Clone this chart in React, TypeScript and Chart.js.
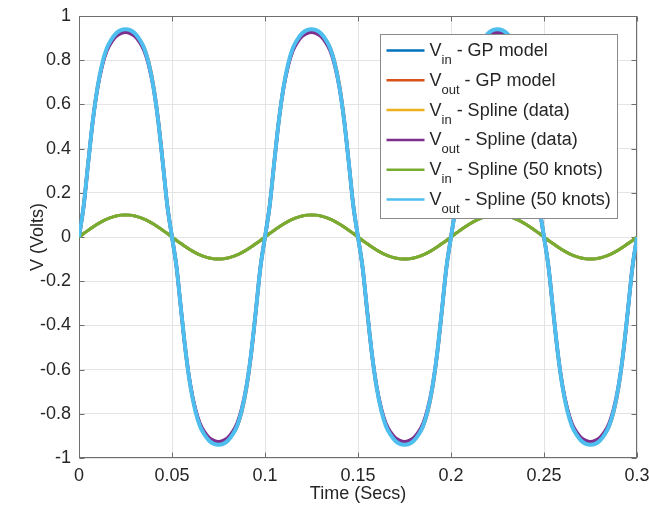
import React, { useEffect, useRef } from "react";
import { Chart, registerables } from "chart.js";

Chart.register(...registerables);

// ---------- data ----------
const TIME_STEP = 0.0025; // seconds between samples (0 .. 0.3 s)

const X_TICKS = [0, 0.05, 0.1, 0.15, 0.2, 0.25, 0.3];
const X_TICK_LABELS = ["0", "0.05", "0.1", "0.15", "0.2", "0.25", "0.3"];
const Y_TICKS = [-1, -0.8, -0.6, -0.4, -0.2, 0, 0.2, 0.4, 0.6, 0.8, 1];
const Y_TICK_LABELS = ["-1", "-0.8", "-0.6", "-0.4", "-0.2", "0", "0.2", "0.4", "0.6", "0.8", "1"];
const X_TITLE = "Time (Secs)";
const Y_TITLE = "V (Volts)";

const SERIES_SYMBOL = ["V", "V", "V", "V", "V", "V"];
const SERIES_SUB = ["in", "out", "in", "out", "in", "out"];
const SERIES_SUFFIX = [
  " - GP model",
  " - GP model",
  " - Spline (data)",
  " - Spline (data)",
  " - Spline (50 knots)",
  " - Spline (50 knots)",
];
const SERIES_COLORS = ["#0072BD", "#D95319", "#EDB120", "#7E2F8E", "#77AC30", "#4DBEEE"];

// Vin - Spline (50 knots)
const VIN_KNOTS = [
  0, 0.016, 0.031, 0.045, 0.059, 0.071, 0.081, 0.089, 0.095, 0.099, 0.1, 0.099, 0.095, 0.089, 0.081, 0.071, 0.059, 0.045, 0.031, 0.016,
  0, -0.016, -0.031, -0.045, -0.059, -0.071, -0.081, -0.089, -0.095, -0.099, -0.1, -0.099, -0.095, -0.089, -0.081, -0.071, -0.059, -0.045, -0.031, -0.016,
  0, 0.016, 0.031, 0.045, 0.059, 0.071, 0.081, 0.089, 0.095, 0.099, 0.1, 0.099, 0.095, 0.089, 0.081, 0.071, 0.059, 0.045, 0.031, 0.016,
  0, -0.016, -0.031, -0.045, -0.059, -0.071, -0.081, -0.089, -0.095, -0.099, -0.1, -0.099, -0.095, -0.089, -0.081, -0.071, -0.059, -0.045, -0.031, -0.016,
  0, 0.016, 0.031, 0.045, 0.059, 0.071, 0.081, 0.089, 0.095, 0.099, 0.1, 0.099, 0.095, 0.089, 0.081, 0.071, 0.059, 0.045, 0.031, 0.016,
  0, -0.016, -0.031, -0.045, -0.059, -0.071, -0.081, -0.089, -0.095, -0.099, -0.1, -0.099, -0.095, -0.089, -0.081, -0.071, -0.059, -0.045, -0.031, -0.016,
  0,
];
// Vin - GP model and Vin - Spline (data) lie under the same curve
const VIN_GP = VIN_KNOTS;
const VIN_DATA = VIN_KNOTS;

// Vout - GP model
const VOUT_GP = [
  0, 0.14, 0.34, 0.53, 0.678, 0.78, 0.848, 0.888, 0.913, 0.927, 0.931, 0.929, 0.917, 0.893, 0.856, 0.79, 0.686, 0.535, 0.342, 0.14,
  0, -0.14, -0.34, -0.53, -0.678, -0.78, -0.848, -0.888, -0.913, -0.927, -0.931, -0.929, -0.917, -0.893, -0.856, -0.79, -0.686, -0.535, -0.342, -0.14,
  0, 0.14, 0.34, 0.53, 0.678, 0.78, 0.848, 0.888, 0.913, 0.927, 0.931, 0.929, 0.917, 0.893, 0.856, 0.79, 0.686, 0.535, 0.342, 0.14,
  0, -0.14, -0.34, -0.53, -0.678, -0.78, -0.848, -0.888, -0.913, -0.927, -0.931, -0.929, -0.917, -0.893, -0.856, -0.79, -0.686, -0.535, -0.342, -0.14,
  0, 0.14, 0.34, 0.53, 0.678, 0.78, 0.848, 0.888, 0.913, 0.927, 0.931, 0.929, 0.917, 0.893, 0.856, 0.79, 0.686, 0.535, 0.342, 0.14,
  0, -0.14, -0.34, -0.53, -0.678, -0.78, -0.848, -0.888, -0.913, -0.927, -0.931, -0.929, -0.917, -0.893, -0.856, -0.79, -0.686, -0.535, -0.342, -0.14,
  0,
];

// Vout - Spline (data)
const VOUT_DATA = [
  0, 0.14, 0.34, 0.53, 0.675, 0.776, 0.843, 0.882, 0.908, 0.921, 0.926, 0.921, 0.908, 0.882, 0.843, 0.776, 0.675, 0.53, 0.34, 0.14,
  0, -0.14, -0.34, -0.53, -0.675, -0.776, -0.843, -0.882, -0.908, -0.921, -0.926, -0.921, -0.908, -0.882, -0.843, -0.776, -0.675, -0.53, -0.34, -0.14,
  0, 0.14, 0.34, 0.53, 0.675, 0.776, 0.843, 0.882, 0.908, 0.921, 0.926, 0.921, 0.908, 0.882, 0.843, 0.776, 0.675, 0.53, 0.34, 0.14,
  0, -0.14, -0.34, -0.53, -0.675, -0.776, -0.843, -0.882, -0.908, -0.921, -0.926, -0.921, -0.908, -0.882, -0.843, -0.776, -0.675, -0.53, -0.34, -0.14,
  0, 0.14, 0.34, 0.53, 0.675, 0.776, 0.843, 0.882, 0.908, 0.921, 0.926, 0.921, 0.908, 0.882, 0.843, 0.776, 0.675, 0.53, 0.34, 0.14,
  0, -0.14, -0.34, -0.53, -0.675, -0.776, -0.843, -0.882, -0.908, -0.921, -0.926, -0.921, -0.908, -0.882, -0.843, -0.776, -0.675, -0.53, -0.34, -0.14,
  0,
];

// Vout - Spline (50 knots)
const VOUT_KNOTS = [
  0, 0.14, 0.34, 0.53, 0.68, 0.785, 0.855, 0.895, 0.922, 0.936, 0.94, 0.936, 0.922, 0.895, 0.855, 0.785, 0.68, 0.53, 0.34, 0.14,
  0, -0.14, -0.34, -0.53, -0.68, -0.785, -0.855, -0.895, -0.922, -0.936, -0.94, -0.936, -0.922, -0.895, -0.855, -0.785, -0.68, -0.53, -0.34, -0.14,
  0, 0.14, 0.34, 0.53, 0.68, 0.785, 0.855, 0.895, 0.922, 0.936, 0.94, 0.936, 0.922, 0.895, 0.855, 0.785, 0.68, 0.53, 0.34, 0.14,
  0, -0.14, -0.34, -0.53, -0.68, -0.785, -0.855, -0.895, -0.922, -0.936, -0.94, -0.936, -0.922, -0.895, -0.855, -0.785, -0.68, -0.53, -0.34, -0.14,
  0, 0.14, 0.34, 0.53, 0.68, 0.785, 0.855, 0.895, 0.922, 0.936, 0.94, 0.936, 0.922, 0.895, 0.855, 0.785, 0.68, 0.53, 0.34, 0.14,
  0, -0.14, -0.34, -0.53, -0.68, -0.785, -0.855, -0.895, -0.922, -0.936, -0.94, -0.936, -0.922, -0.895, -0.855, -0.785, -0.68, -0.53, -0.34, -0.14,
  0,
];

const SERIES_VALUES = [VIN_GP, VOUT_GP, VIN_DATA, VOUT_DATA, VIN_KNOTS, VOUT_KNOTS];
const SERIES_WIDTHS = [3, 3.5, 3, 3.5, 3, 4];

// ---------- style ----------
const FONT = '"Liberation Sans", Arial, Helvetica, sans-serif';
const TEXT_COLOR = "#262626";
const AXIS_COLOR = "#6e6e6e";
const GRID_COLOR = "#e4e4e4";

const axesBoxPlugin = {
  id: "axesBox",
  beforeDatasetsDraw(chart: any) {
    const { ctx, chartArea: a, scales } = chart;
    const xs = scales.x;
    const ys = scales.y;
    const L = Math.round(a.left) + 0.5;
    const R = Math.round(a.right) - 0.5;
    const T = Math.round(a.top) + 0.5;
    const B = Math.round(a.bottom) - 0.5;
    ctx.save();
    ctx.strokeStyle = AXIS_COLOR;
    ctx.lineWidth = 1;
    ctx.strokeRect(L, T, R - L, B - T);
    const tl = 5;
    ctx.beginPath();
    X_TICKS.forEach((v) => {
      const px = Math.round(xs.getPixelForValue(v)) + 0.5;
      ctx.moveTo(px, B);
      ctx.lineTo(px, B - tl);
      ctx.moveTo(px, T);
      ctx.lineTo(px, T + tl);
    });
    Y_TICKS.forEach((v) => {
      const py = Math.round(ys.getPixelForValue(v)) + 0.5;
      ctx.moveTo(L, py);
      ctx.lineTo(L + tl, py);
      ctx.moveTo(R, py);
      ctx.lineTo(R - tl, py);
    });
    ctx.stroke();
    ctx.restore();
  },
  afterDraw(chart: any) {
    const { ctx, chartArea: a } = chart;
    ctx.save();
    ctx.fillStyle = TEXT_COLOR;
    ctx.font = `18px ${FONT}`;
    ctx.textAlign = "center";
    ctx.textBaseline = "middle";
    ctx.fillText(X_TITLE, (a.left + a.right) / 2, a.bottom + 36);
    ctx.translate(a.left - 41, (a.top + a.bottom) / 2);
    ctx.rotate(-Math.PI / 2);
    ctx.fillText(Y_TITLE, 0, 0);
    ctx.restore();
  },
};

const legendPlugin = {
  id: "matlabLegend",
  afterDraw(chart: any) {
    const { ctx, chartArea: a } = chart;
    const mainFont = `18px ${FONT}`;
    const subFont = `13px ${FONT}`;
    ctx.save();
    const parts = SERIES_SUB.map((sub, i) => {
      ctx.font = mainFont;
      const w1 = ctx.measureText(SERIES_SYMBOL[i]).width;
      const w3 = ctx.measureText(SERIES_SUFFIX[i]).width;
      ctx.font = subFont;
      const w2 = ctx.measureText(sub).width;
      return { w1, w2, w3 };
    });
    const maxW = Math.max(...parts.map((p) => p.w1 + p.w2 + p.w3));
    const padL = 6, lineLen = 38, gap = 5, padR = 7;
    const rowH = 29.8, padTop = 16, padBottom = 19;
    const n = SERIES_SUB.length;
    const boxW = padL + lineLen + gap + maxW + padR;
    const boxH = padTop + rowH * (n - 1) + padBottom;
    const bx = Math.round(a.right - 20 - boxW) + 0.5;
    const by = Math.round(a.top + 18) + 0.5;
    ctx.fillStyle = "#ffffff";
    ctx.fillRect(bx, by, boxW, boxH);
    ctx.strokeStyle = "#8a8a8a";
    ctx.lineWidth = 1;
    ctx.strokeRect(bx, by, Math.round(boxW), Math.round(boxH));
    for (let i = 0; i < n; i++) {
      const ry = by + padTop + rowH * i;
      ctx.strokeStyle = SERIES_COLORS[i];
      ctx.lineWidth = 2.5;
      ctx.beginPath();
      ctx.moveTo(bx + padL, ry);
      ctx.lineTo(bx + padL + lineLen, ry);
      ctx.stroke();
      let tx = bx + padL + lineLen + gap;
      ctx.fillStyle = TEXT_COLOR;
      ctx.textAlign = "left";
      ctx.textBaseline = "alphabetic";
      ctx.font = mainFont;
      ctx.fillText(SERIES_SYMBOL[i], tx, ry + 5.5);
      tx += parts[i].w1;
      ctx.font = subFont;
      ctx.fillText(SERIES_SUB[i], tx, ry + 13.5);
      tx += parts[i].w2;
      ctx.font = mainFont;
      ctx.fillText(SERIES_SUFFIX[i], tx, ry + 5.5);
    }
    ctx.restore();
  },
};

export default function App() {
  const canvasRef = useRef<HTMLCanvasElement | null>(null);

  useEffect(() => {
    const canvas = canvasRef.current;
    if (!canvas) return;
    const times = VOUT_KNOTS.map((_, i) => i * TIME_STEP);
    const datasets = SERIES_VALUES.map((vals, i) => ({
      label: SERIES_SYMBOL[i] + SERIES_SUB[i] + SERIES_SUFFIX[i],
      data: times.map((t, k) => ({ x: t, y: vals[k] })),
      borderColor: SERIES_COLORS[i],
      backgroundColor: SERIES_COLORS[i],
      borderWidth: SERIES_WIDTHS[i],
      pointRadius: 0,
      fill: false,
      cubicInterpolationMode: "monotone" as const,
      order: SERIES_VALUES.length - i,
    }));

    const chart = new Chart(canvas, {
      type: "line",
      data: { datasets },
      options: {
        responsive: false,
        animation: false,
        devicePixelRatio: 1,
        layout: { padding: { left: 0, right: 12, top: 16, bottom: 0 } },
        plugins: {
          legend: { display: false },
          tooltip: { enabled: false },
        },
        scales: {
          x: {
            type: "linear",
            min: 0,
            max: 0.3,
            afterBuildTicks: (s: any) => {
              s.ticks = X_TICKS.map((v) => ({ value: v }));
            },
            afterFit: (s: any) => {
              s.height = 49;
              s.paddingLeft = 0;
              s.paddingRight = 0;
            },
            ticks: {
              autoSkip: false,
              maxRotation: 0,
              padding: 7,
              color: TEXT_COLOR,
              font: { family: FONT, size: 18 },
              callback: (_v: any, i: number) => X_TICK_LABELS[i],
            },
            grid: { color: GRID_COLOR, drawTicks: false },
            border: { display: false },
          },
          y: {
            type: "linear",
            min: -1,
            max: 1,
            afterBuildTicks: (s: any) => {
              s.ticks = Y_TICKS.map((v) => ({ value: v }));
            },
            afterFit: (s: any) => {
              s.width = 79;
              s.paddingTop = 0;
              s.paddingBottom = 0;
            },
            ticks: {
              autoSkip: false,
              padding: 8,
              color: TEXT_COLOR,
              font: { family: FONT, size: 18 },
              callback: (_v: any, i: number) => Y_TICK_LABELS[i],
            },
            grid: { color: GRID_COLOR, drawTicks: false },
            border: { display: false },
          },
        },
      },
      plugins: [axesBoxPlugin, legendPlugin],
    });
    return () => chart.destroy();
  }, []);

  return (
    <div style={{ position: "absolute", left: 0, top: 0, width: 649, height: 507, background: "#fff" }}>
      <canvas ref={canvasRef} width={649} height={507} style={{ display: "block" }} />
    </div>
  );
}
